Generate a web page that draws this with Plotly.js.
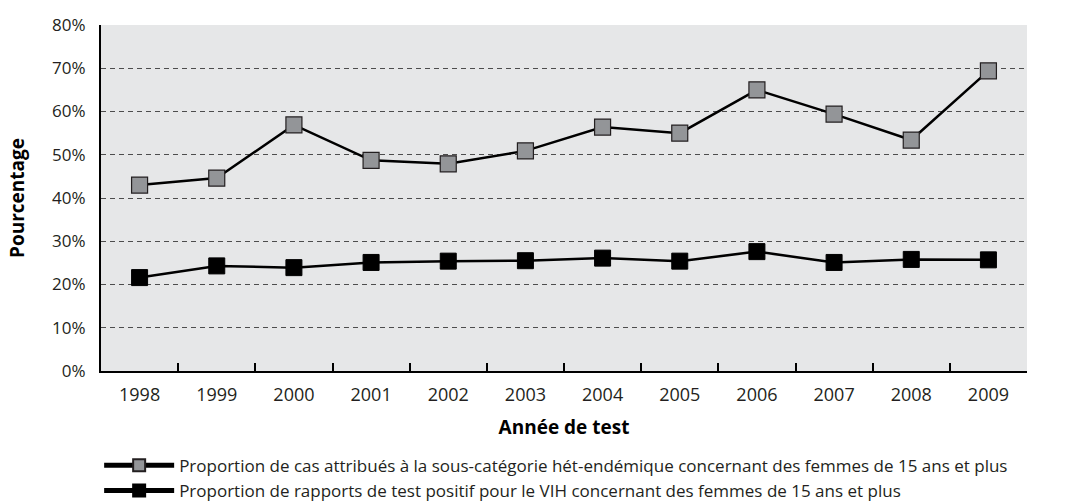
<!DOCTYPE html>
<html>
<head>
<meta charset="utf-8">
<script src="https://cdn.plot.ly/plotly-3.0.1.min.js"></script>
<style>html,body{margin:0;padding:0;background:#fff;}#chart{width:1070px;height:504px;}</style>
</head>
<body>
<div id="chart"></div>
<script>
const years = ['1998','1999','2000','2001','2002','2003','2004','2005','2006','2007','2008','2009'];
const hetEndemic = [43.0, 44.6, 56.9, 48.7, 47.9, 50.9, 56.4, 55.0, 65.0, 59.4, 53.4, 69.4];
const positiveTests = [21.6, 24.3, 23.9, 25.1, 25.4, 25.5, 26.1, 25.4, 27.6, 25.1, 25.8, 25.7];
const seriesNames = [
  'Proportion de cas attribués à la sous-catégorie hét-endémique concernant des femmes de 15 ans et plus',
  'Proportion de rapports de test positif pour le VIH concernant des femmes de 15 ans et plus'
];
const yTicks = [0,10,20,30,40,50,60,70,80];
const yTickText = yTicks.map(v => v + '%');

const font = 'Open Sans, Noto Sans, sans-serif';

const traces = [
  {
    x: years, y: hetEndemic, name: seriesNames[0], type: 'scatter', mode: 'lines+markers',
    line: {color: '#000000', width: 2.5},
    marker: {symbol: 'square', size: 16, color: '#939598', line: {color: '#231f20', width: 1.2}}
  },
  {
    x: years, y: positiveTests, name: seriesNames[1], type: 'scatter', mode: 'lines+markers',
    line: {color: '#000000', width: 2.5},
    marker: {symbol: 'square', size: 16, color: '#000000', line: {color: '#000000', width: 1}}
  }
];

const layout = {
  width: 1070, height: 504,
  margin: {l: 101, r: 43, t: 25, b: 133, autoexpand: false},
  paper_bgcolor: '#ffffff',
  plot_bgcolor: '#e6e7e8',
  font: {family: font, size: 17, color: '#231f20'},
  showlegend: true,
  legend: {
    orientation: 'v',
    x: -0.002, xanchor: 'left', y: -0.222, yanchor: 'top',
    traceorder: 'normal', itemwidth: 70, tracegroupgap: 0,
    font: {family: font, size: 17, color: '#231f20'},
    bgcolor: 'rgba(0,0,0,0)', itemsizing: 'constant'
  },
  xaxis: {
    type: 'category', range: [-0.5, 11.5], automargin: false,
    showline: true, linecolor: '#000', linewidth: 2,
    ticks: 'inside', ticklen: 8, tickwidth: 2, tickcolor: '#000',
    tickson: 'boundaries', showgrid: false, zeroline: false,
    tickfont: {family: font, size: 18, color: '#231f20'},
    ticklabelstandoff: 6,
    title: {text: '<b>Année de test</b>', font: {family: font, size: 19, color: '#000'}, standoff: 16}
  },
  yaxis: {
    range: [0, 80], tickvals: yTicks, ticktext: yTickText, automargin: false,
    showline: true, linecolor: '#000', linewidth: 2,
    ticks: '', showgrid: true, gridcolor: '#4d4d4d', gridwidth: 1, griddash: '5px,4px',
    zeroline: false,
    tickfont: {family: font, size: 17, color: '#231f20'},
    ticklabelstandoff: 10,
    title: {text: '<b>Pourcentage</b>', font: {family: font, size: 19, color: '#000'}, standoff: 22}
  }
};

Plotly.newPlot('chart', traces, layout, {displayModeBar: false, responsive: false});
</script>
</body>
</html>
